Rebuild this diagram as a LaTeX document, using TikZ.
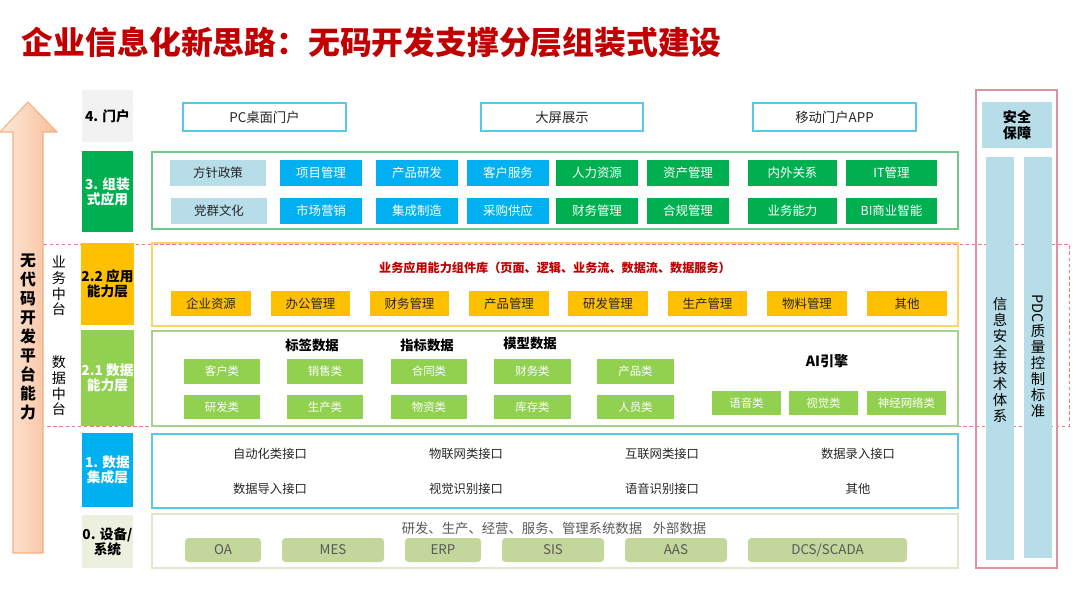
\documentclass[tikz,border=0pt]{standalone}
\usepackage{fontspec}
\setmainfont{Noto Sans CJK SC}
\definecolor{cTitle}{HTML}{C00000}
\definecolor{cGray4}{HTML}{F2F2F2}
\definecolor{cGreen}{HTML}{00B050}
\definecolor{cYellow}{HTML}{FFC000}
\definecolor{cLgreen}{HTML}{92D050}
\definecolor{cBlue}{HTML}{00B0F0}
\definecolor{cRow0}{HTML}{EBF1DE}
\definecolor{cLblue}{HTML}{B7DEE8}
\definecolor{cPortal}{HTML}{5BC8E8}
\definecolor{cC3}{HTML}{70C98C}
\definecolor{cC22}{HTML}{FFD36B}
\definecolor{cC21}{HTML}{A9D18E}
\definecolor{cC1}{HTML}{5BC8E8}
\definecolor{cC0}{HTML}{E2E6CF}
\definecolor{cOlive}{HTML}{C3D69B}
\definecolor{cGrayT}{HTML}{595959}
\definecolor{cRight}{HTML}{E0909F}
\definecolor{cDash}{HTML}{E57A8A}
\definecolor{cArrL}{HTML}{FDE9DC}
\definecolor{cArrR}{HTML}{F8BE98}
\definecolor{cArrB}{HTML}{F4B183}
\definecolor{cDark}{HTML}{262626}
\newcommand\bx[7]{\node[#1, minimum width={(#5-#3)*0.02cm}, minimum height={(#6-#4)*0.02cm}] (#2) at ({(#3+#5)/2},{(#4+#6)/2}) {#7};}
\begin{document}
\begin{tikzpicture}[x=0.02cm,y=-0.02cm,
  box/.style={inner sep=0pt, outer sep=0pt, align=center},
  lay/.style={box, font=\bfseries\fontsize{7.8}{8.7}\selectfont},
  cont/.style={box, line width=0.8pt},
  portal/.style={box, draw=cPortal, line width=0.8pt, fill=white, text=cDark, font=\fontsize{7.6}{9}\selectfont},
  apb/.style={box, text=white, font=\fontsize{7.1}{8.5}\selectfont},
  yb/.style={box, fill=cYellow, text=cDark, font=\fontsize{7.1}{8.5}\selectfont},
  db/.style={box, fill=cLgreen, text=white, font=\fontsize{6.5}{8}\selectfont},
  hd/.style={box, font=\bfseries\fontsize{7.6}{9}\selectfont},
  itf/.style={box, text=cDark, font=\fontsize{7}{8.5}\selectfont},
  ob/.style={box, fill=cOlive, rounded corners=2pt, text=cGrayT, font=\fontsize{7.6}{9}\selectfont},
  vt/.style={box, font=\fontsize{8}{8.9}\selectfont},
]
\useasboundingbox (0,0) rectangle (1080,608);
\fill[white] (0,0) rectangle (1080,608);

% title
\node[box, anchor=west, text=cTitle, font=\bfseries\fontsize{18.1}{22}\selectfont] (title) at (22,42) {企业信息化新思路：无码开发支撑分层组装式建设};

% dashed middle band
\draw[cDash, line width=0.5pt, dash pattern=on 2pt off 1.5pt] (20,244) rectangle (1069,426);

% left arrow
\shade[left color=cArrL, right color=cArrR, draw=cArrB, line width=0.6pt]
  (13,553) -- (13,132) -- (0,132) -- (28,102) -- (57,132) -- (43,132) -- (43,553) -- cycle;
\node[box, font=\bfseries\fontsize{9}{10.8}\selectfont] (arrtxt) at (28,337) {无\\代\\码\\开\\发\\平\\台\\能\\力};
\node[vt] (ywzt) at (59,286) {业\\务\\中\\台};
\node[vt] (sjzt) at (59,386) {数\\据\\中\\台};

% layer labels
\bx{lay, fill=cGray4}{L4}{82}{90}{133}{142}{4. 门户}
\bx{lay, fill=cGreen, text=white}{L3}{82}{151}{133}{232}{3. 组装\\式应用}
\bx{lay, fill=cYellow}{L22}{82}{243}{133}{325}{2.2 应用\\能力层}
\bx{lay, fill=cLgreen, text=white}{L21}{82}{330}{133}{426}{2.1 数据\\能力层}
\bx{lay, fill=cBlue, text=white}{L1}{82}{433}{133}{507}{1. 数据\\集成层}
\bx{lay, fill=cRow0}{L0}{82}{515}{133}{568}{0. 设备/\\系统}

% containers
\bx{cont, draw=cC3}{C3}{152}{152}{958}{229}{}
\bx{cont, draw=cC22}{C22}{152}{243}{958}{326}{}
\bx{cont, draw=cC21}{C21}{152}{331}{958}{426}{}
\bx{cont, draw=cC1}{C1}{152}{434}{958}{508}{}
\bx{cont, draw=cC0}{C0}{152}{514}{958}{568}{}

% 4 portal
\bx{portal}{P1}{183}{103}{346}{131}{PC桌面门户}
\bx{portal}{P2}{481}{103}{643}{131}{大屏展示}
\bx{portal}{P3}{753}{103}{916}{131}{移动门户APP}

% 3 apps
\bx{apb, fill=cLblue, text=cDark}{A11}{170}{160}{266}{186}{方针政策}
\bx{apb, fill=cLblue, text=cDark}{A21}{171}{198}{267}{224}{党群文化}
\bx{apb, fill=cBlue}{A12}{280}{160}{362}{186}{项目管理}
\bx{apb, fill=cBlue}{A22}{280}{198}{362}{224}{市场营销}
\bx{apb, fill=cBlue}{A13}{376}{160}{458}{186}{产品研发}
\bx{apb, fill=cBlue}{A23}{376}{198}{458}{224}{集成制造}
\bx{apb, fill=cBlue}{A14}{467}{160}{549}{186}{客户服务}
\bx{apb, fill=cBlue}{A24}{467}{198}{549}{224}{采购供应}
\bx{apb, fill=cGreen}{A15}{556}{160}{638}{186}{人力资源}
\bx{apb, fill=cGreen}{A25}{556}{198}{638}{224}{财务管理}
\bx{apb, fill=cGreen}{A16}{647}{160}{729}{186}{资产管理}
\bx{apb, fill=cGreen}{A26}{647}{198}{729}{224}{合规管理}
\bx{apb, fill=cGreen}{A17}{748}{160}{837}{186}{内外关系}
\bx{apb, fill=cGreen}{A27}{748}{198}{837}{224}{业务能力}
\bx{apb, fill=cGreen}{A18}{846}{160}{937}{186}{IT管理}
\bx{apb, fill=cGreen}{A28}{846}{198}{937}{224}{BI商业智能}

% 2.2
\node[box, text=cTitle, font=\bfseries\fontsize{6.9}{8}\selectfont] (libt) at (555,268) {业务应用能力组件库（页面、逻辑、业务流、数据流、数据服务）};
\bx{yb}{Y1}{171}{291}{251}{316}{企业资源}
\bx{yb}{Y2}{271}{291}{350}{316}{办公管理}
\bx{yb}{Y3}{370}{291}{449}{316}{财务管理}
\bx{yb}{Y4}{469}{291}{549}{316}{产品管理}
\bx{yb}{Y5}{568}{291}{648}{316}{研发管理}
\bx{yb}{Y6}{668}{291}{747}{316}{生产管理}
\bx{yb}{Y7}{767}{291}{847}{316}{物料管理}
\bx{yb}{Y8}{867}{291}{947}{316}{其他}

% 2.1
\node[hd] (h1) at (312,345) {标签数据};
\node[hd] (h2) at (427,345) {指标数据};
\node[hd] (h3) at (530,343) {模型数据};
\node[box, font=\bfseries\fontsize{8}{9.5}\selectfont] (h4) at (827,361) {AI引擎};
\bx{db}{D11}{184}{359}{260}{384}{客户类}
\bx{db}{D21}{184}{395}{260}{419}{研发类}
\bx{db}{D12}{287}{359}{363}{384}{销售类}
\bx{db}{D22}{287}{395}{363}{419}{生产类}
\bx{db}{D13}{391}{359}{467}{384}{合同类}
\bx{db}{D23}{391}{395}{467}{419}{物资类}
\bx{db}{D14}{494}{359}{571}{384}{财务类}
\bx{db}{D24}{494}{395}{571}{419}{库存类}
\bx{db}{D15}{597}{359}{674}{384}{产品类}
\bx{db}{D25}{597}{395}{674}{419}{人员类}
\bx{db}{AI1}{712}{391}{781}{415}{语音类}
\bx{db}{AI2}{789}{391}{858}{415}{视觉类}
\bx{db}{AI3}{867}{391}{946}{415}{神经网络类}

% 1
\node[itf] (I11) at (270,454) {自动化类接口};
\node[itf] (I12) at (466,454) {物联网类接口};
\node[itf] (I13) at (662,454) {互联网类接口};
\node[itf] (I14) at (858,454) {数据录入接口};
\node[itf] (I21) at (270,489) {数据导入接口};
\node[itf] (I22) at (466,489) {视觉识别接口};
\node[itf] (I23) at (662,489) {语音识别接口};
\node[itf] (I24) at (858,489) {其他};

% 0
\node[box, text=cGrayT, font=\fontsize{7.6}{9}\selectfont] (r0t) at (554,528) {研发、生产、经营、服务、管理系统数据\hspace{0.8em}外部数据};
\bx{ob}{O1}{185}{538}{261}{562}{OA}
\bx{ob}{O2}{282}{538}{384}{562}{MES}
\bx{ob}{O3}{405}{538}{481}{562}{ERP}
\bx{ob}{O4}{502}{538}{604}{562}{SIS}
\bx{ob}{O5}{625}{538}{727}{562}{AAS}
\bx{ob}{O6}{748}{538}{907}{562}{DCS/SCADA}

% right security
\bx{box, draw=cRight, line width=0.7pt}{R}{976}{90}{1057}{568}{}
\bx{box, fill=cLblue, font=\bfseries\fontsize{8}{9.2}\selectfont}{S0}{982}{102}{1052}{148}{安全\\保障}
\bx{box, fill=cLblue}{S1}{986}{157}{1014}{560}{}
\bx{box, fill=cLblue}{S2}{1024}{157}{1052}{558}{}
\node[box, font=\fontsize{8.2}{9.1}\selectfont] (S1t) at (1000,360) {信\\息\\安\\全\\技\\术\\体\\系};
\node[box, font=\fontsize{8.2}{9.1}\selectfont] (S2t) at (1038,356) {\rotatebox{-90}{PDC}\\质\\量\\控\\制\\标\\准};
\end{tikzpicture}
\end{document}
